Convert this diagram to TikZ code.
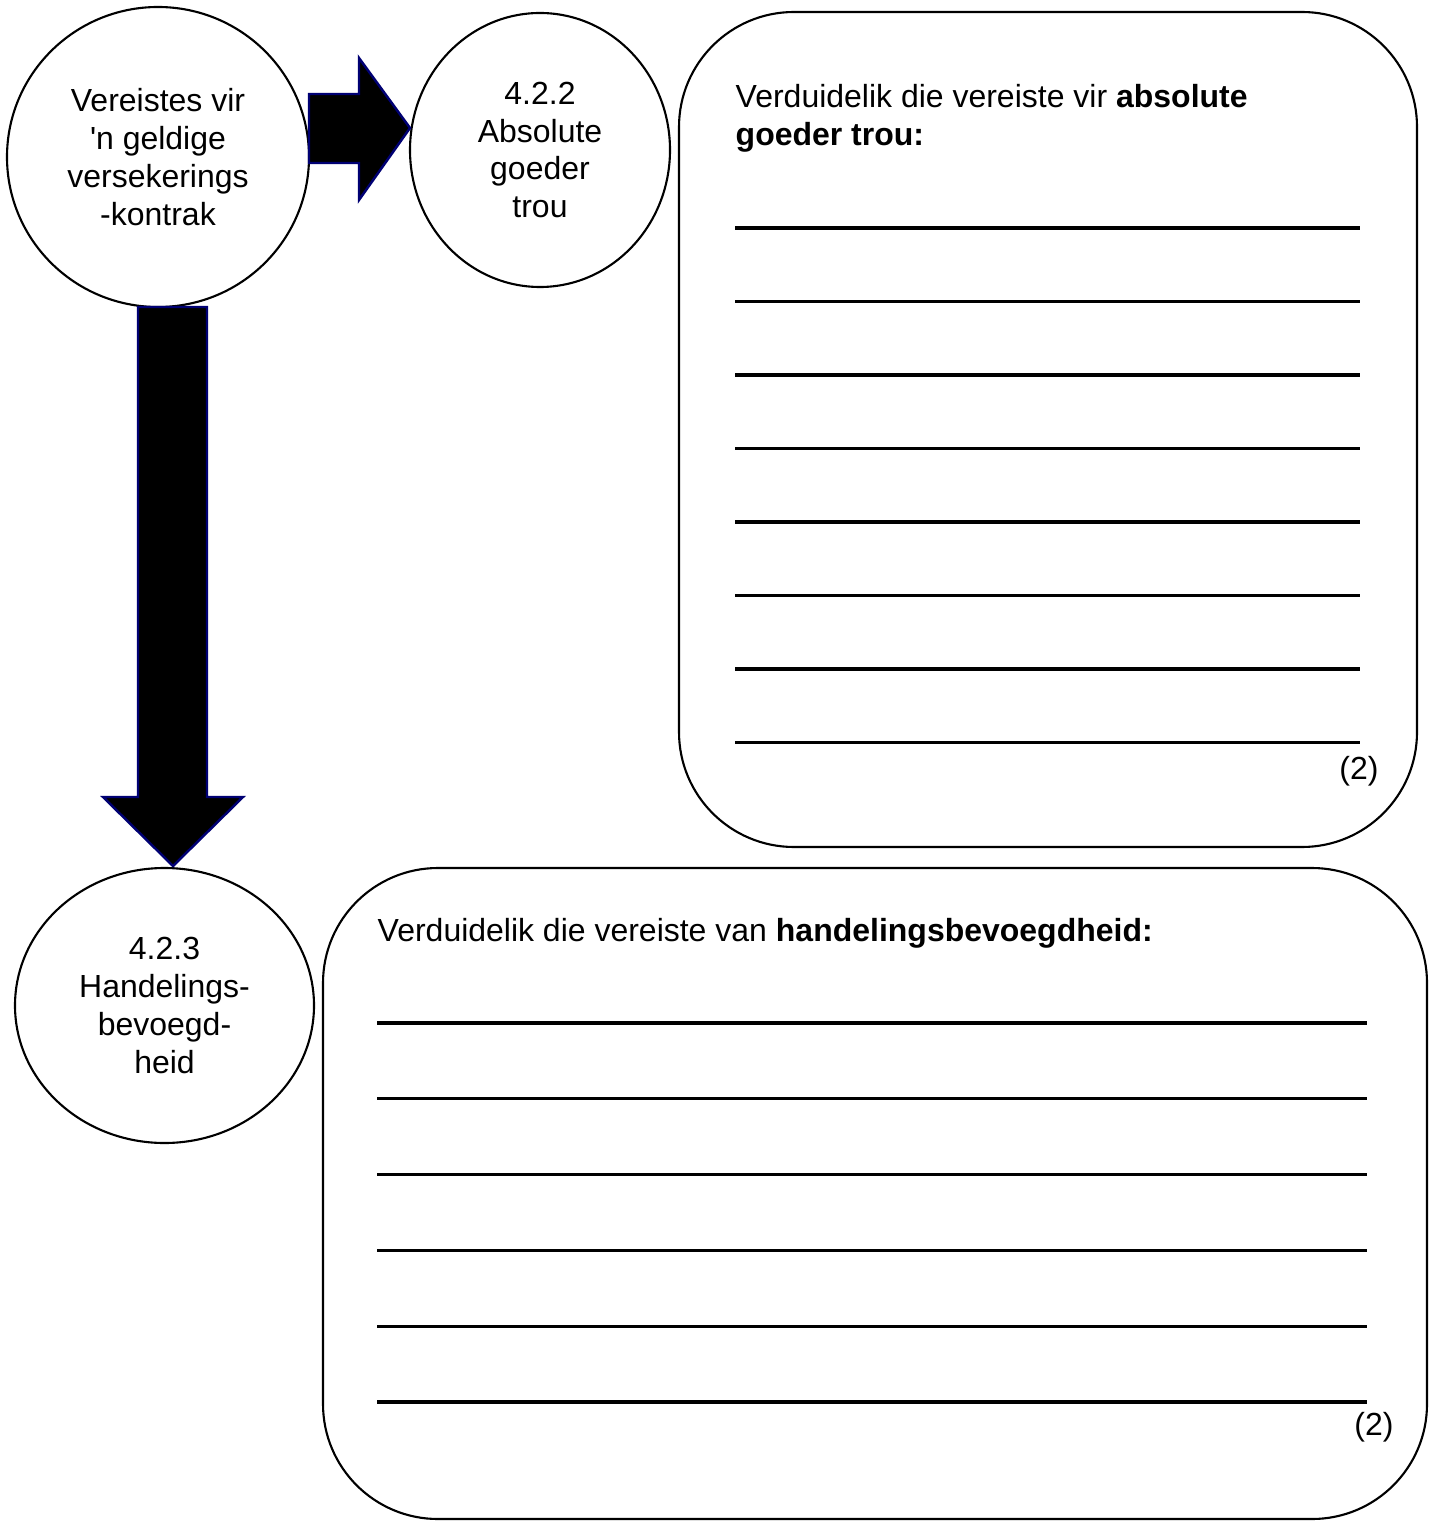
\documentclass[tikz,border=0pt]{standalone}
\usepackage{fontspec}
\setmainfont{Liberation Sans}
\usetikzlibrary{shapes.geometric}

\begin{document}
\begin{tikzpicture}[scale=1.0,
    every node/.style={font=\fontsize{9.1}{10.8}\selectfont},
    bubble/.style={draw,ellipse,line width=0.6pt,align=center,inner sep=0pt},
    answerbox/.style={draw,line width=0.6pt,rounded corners=1.15cm},
    blockarrow/.style={fill=black,draw=blue!45!black,line width=0.7pt,line join=miter},
    writeline/.style={line width=0.9pt}]
    \useasboundingbox (0,0) rectangle (14.32,-15.22);
    % bubbles
    \node[bubble,minimum width=3.02cm,minimum height=3.00cm] (vereistes) at (1.58,-1.57)
      {Vereistes vir\\\textquotesingle n geldige\\versekerings\\-kontrak};
    \node[bubble,minimum width=2.60cm,minimum height=2.74cm] (goeder) at (5.40,-1.50)
      {4.2.2\\Absolute\\goeder\\trou};
    \node[bubble,minimum width=2.99cm,minimum height=2.75cm] (handel) at (1.645,-10.055)
      {4.2.3\\Handelings-\\bevoegd-\\heid};
    % block arrows
    \coordinate (rtip) at (4.10,-1.28);
    \coordinate (dtip) at (1.73,-8.66);
    \draw[blockarrow] (rtip) -- ++(-0.51,0.70) -- ++(0,-0.36) -- ++(-0.50,0)
      -- ++(0,-0.69) -- ++(0.50,0) -- ++(0,-0.37) -- cycle;
    \draw[blockarrow] (dtip) -- ++(-0.70,0.69) -- ++(0.35,0) -- ++(0,4.90)
      -- ++(0.69,0) -- ++(0,-4.90) -- ++(0.36,0) -- cycle;
    % answer box for 4.2.2
    \draw[answerbox] (6.79,-0.12) rectangle (14.17,-8.47);
    \node[anchor=west,align=left,inner sep=0pt] (vraaggoeder) at (7.35,-1.185)
      {Verduidelik die vereiste vir \textbf{absolute}\\\textbf{goeder trou:}};
    \foreach \y in {2.28,3.015,3.75,4.485,5.22,5.955,6.69,7.425}{%
      \draw[writeline] (7.35,-\y) -- (13.60,-\y);
    }
    \node (puntegoeder) at (13.59,-7.71) {(2)};
    % answer box for 4.2.3
    \draw[answerbox] (3.23,-8.68) rectangle (14.27,-15.19);
    \node[anchor=west,inner sep=0pt] (vraaghandel) at (3.77,-9.33)
      {Verduidelik die vereiste van \textbf{handelingsbevoegdheid:}};
    \foreach \y in {10.23,10.988,11.746,12.504,13.262,14.02}{%
      \draw[writeline] (3.77,-\y) -- (13.67,-\y);
    }
    \node (puntehandel) at (13.74,-14.27) {(2)};
\end{tikzpicture}
\end{document}
